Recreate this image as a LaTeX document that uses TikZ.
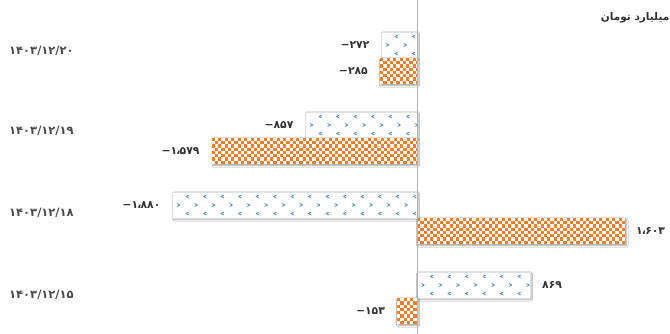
\documentclass[tikz,border=0pt]{standalone}
\usepackage{fontspec}
\newfontfamily\fa[Script=Arabic]{DejaVu Sans}
\newfontfamily\numfont{DejaVu Sans}
\TeXXeTstate=1
\usetikzlibrary{shadows.blur}
\definecolor{barblue}{RGB}{74,144,217}
\definecolor{barorange}{RGB}{242,125,40}
\definecolor{txtdark}{RGB}{50,50,50}
\definecolor{txtgray}{RGB}{75,75,75}
\newcommand\tsep{\kern-0.8pt،\kern-0.8pt}
\tikzset{
  barshadow/.style={blur shadow={shadow xshift=1pt, shadow yshift=-1.5pt, shadow blur radius=1.6pt, shadow opacity=35}},
  chev/.style={barblue, line width=0.8pt, line cap=round, line join=round},
  vallabel/.style={font=\numfont\bfseries\fontsize{10.8}{13}\selectfont, text=txtdark, inner sep=0pt},
  datelabel/.style={font=\numfont\bfseries\fontsize{11.5}{13}\selectfont, text=txtgray, inner sep=0pt, anchor=west},
  axisline/.style={draw=black!30, line width=0.8pt},
}
% orange checker bar: x1, x2, ytop
\newcommand\orangebar[3]{%
  \fill[white, barshadow] (#1,#3) rectangle (#2,#3+26);
  \begin{scope}
    \clip (#1,#3) rectangle (#2,#3+26);
    \foreach \i in {0,...,65} {
      \foreach \j in {0,2,4,6} {
        \fill[barorange] ({#1+\i*3.25},{#3+(\j+mod(\i,2))*3.25}) rectangle +(3.25,3.25);
      }
    }
  \end{scope}
}
% blue chevron bar: x1, x2, ytop
\newcommand\bluebar[3]{%
  \fill[white, draw=black!12, line width=0.4pt, barshadow] (#1,#3) rectangle (#2,#3+26);
  \begin{scope}
    \clip (#1,#3) rectangle (#2,#3+26);
    \foreach \i in {0,...,14} {
      \draw[chev] ({#1+14.75+\i*17.5+1.3},{#3+4.5-1.4}) -- ({#1+14.75+\i*17.5-1.3},{#3+4.5}) -- ({#1+14.75+\i*17.5+1.3},{#3+4.5+1.4});
      \draw[chev] ({#1+14.75+\i*17.5+1.3},{#3+21.5-1.4}) -- ({#1+14.75+\i*17.5-1.3},{#3+21.5}) -- ({#1+14.75+\i*17.5+1.3},{#3+21.5+1.4});
      \draw[chev] ({#1+6+\i*17.5-1.3},{#3+13-1.4}) -- ({#1+6+\i*17.5+1.3},{#3+13}) -- ({#1+6+\i*17.5-1.3},{#3+13+1.4});
    }
  \end{scope}
}
\begin{document}
\begin{tikzpicture}[x=1pt, y=-1pt]
  \useasboundingbox (0,0) rectangle (670,334);
  \clip (0,0) rectangle (670,334);
  \fill[white] (0,0) rectangle (670,334);

  % group 1 : 1403/12/20
  \bluebar{381.6}{417}{32}
  \orangebar{380}{417}{58}
  % group 2 : 1403/12/19
  \bluebar{305.6}{417}{112}
  \orangebar{211.7}{417}{138}
  % group 3 : 1403/12/18
  \bluebar{172.6}{417}{192}
  \orangebar{417}{625.4}{218}
  % group 4 : 1403/12/15
  \bluebar{417}{530}{272}
  \orangebar{397.1}{417}{298}

  % axis
  \coordinate (axtop) at (417.5,0);
  \coordinate (axbot) at (417.5,334);
  \draw[axisline] (axtop) -- (axbot);

  % unit title
  \node[font=\fa\bfseries\fontsize{10.5}{12}\selectfont, text=txtdark, anchor=east, inner sep=0pt] (unit) at (669.5,18) {\beginR میلیارد تومان\endR};

  % date labels
  \node[datelabel] (d1) at (9,51) {۱۴۰۳/۱۲/۲۰};
  \node[datelabel] (d2) at (9,131) {۱۴۰۳/۱۲/۱۹};
  \node[datelabel] (d3) at (9,213) {۱۴۰۳/۱۲/۱۸};
  \node[datelabel] (d4) at (9,295) {۱۴۰۳/۱۲/۱۵};

  % value labels
  \node[vallabel, anchor=east] (b1) at (369.6,45) {−۲۷۲};
  \node[vallabel, anchor=east] (o1) at (368,71) {−۲۸۵};
  \node[vallabel, anchor=east] (b2) at (293.6,125) {−۸۵۷};
  \node[vallabel, anchor=east] (o2) at (199.7,151) {−۱\tsep۵۷۹};
  \node[vallabel, anchor=east] (b3) at (160.6,205) {−۱\tsep۸۸۰};
  \node[vallabel, anchor=west] (o3) at (636,231) {۱\tsep۶۰۳};
  \node[vallabel, anchor=west] (b4) at (542,285) {۸۶۹};
  \node[vallabel, anchor=east] (o4) at (385.1,311) {−۱۵۳};
\end{tikzpicture}
\end{document}
